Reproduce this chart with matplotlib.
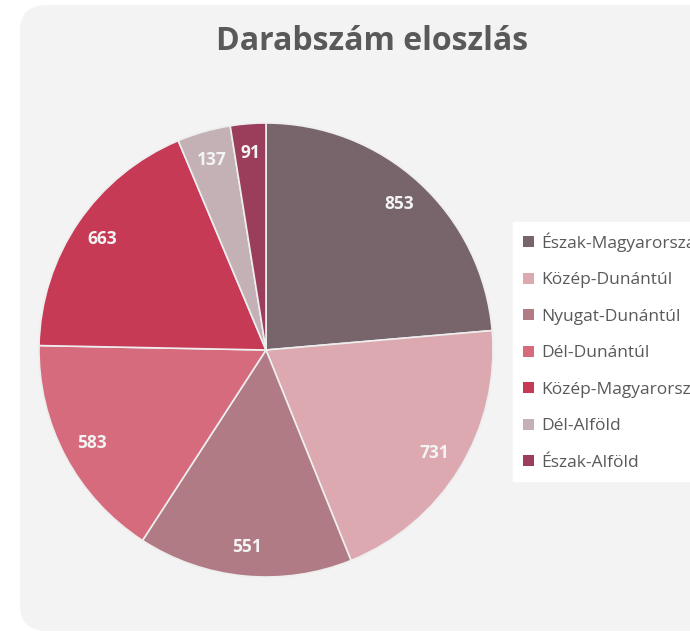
import matplotlib.pyplot as plt
from matplotlib.patches import FancyBboxPatch

regions = ["Észak-Magyarország", "Közép-Dunántúl", "Nyugat-Dunántúl", "Dél-Dunántúl",
           "Közép-Magyarország", "Dél-Alföld", "Észak-Alföld"]
counts = [853, 731, 551, 583, 663, 137, 91]
colors = ["#77656b", "#dca9b1", "#b07b84", "#d56b7d", "#c73a56", "#c4b1b6", "#9b3e5b"]

W, H = 690, 637
fig = plt.figure(figsize=(W / 100, H / 100), dpi=100)
fig.patch.set_facecolor("white")

# card background
card = FancyBboxPatch((20 / W, 6 / H), 700 / W, 626 / H,
                      boxstyle="round,pad=0,rounding_size=0.04",
                      transform=fig.transFigure, facecolor="#f3f3f3",
                      edgecolor="none", zorder=-5)
fig.patches.append(card)

fig.text(372 / W, 1 - 42 / H, "Darabszám eloszlás", ha="center", va="center",
         fontsize=23, fontweight="bold", color="#595959", family="Open Sans")

cx, cy, r = 266, 350, 227
ax = fig.add_axes([(cx - r) / W, (H - cy - r) / H, 2 * r / W, 2 * r / H], zorder=2)
ax.set_facecolor("none")

wedges, texts, autotexts = ax.pie(
    counts, colors=colors, startangle=90, counterclock=False, radius=1,
    autopct=lambda p: f"{round(p * sum(counts) / 100):d}", pctdistance=0.87,
    wedgeprops=dict(edgecolor="#eeeeee", linewidth=1.2),
    textprops=dict(color="#f4f4f4", fontsize=12.5, fontweight="bold", family="Open Sans"))
ax.set_xlim(-1, 1)
ax.set_ylim(-1, 1)
ax.set_aspect("equal")
ax.axis("off")

leg = fig.legend(wedges, regions, loc="upper left",
                 bbox_to_anchor=(513 / W, 1 - 222 / H), frameon=True,
                 fancybox=False, edgecolor="white", facecolor="white",
                 framealpha=1, handlelength=0.6, handleheight=0.6,
                 handletextpad=0.45, labelspacing=1.18, borderpad=0.6,
                 borderaxespad=0, prop=dict(family="Open Sans", size=12.5))
leg.set_zorder(3)
for t in leg.get_texts():
    t.set_color("#595959")
for h in leg.legend_handles:
    h.set_edgecolor("none")

fig.savefig("out.png", dpi=100)
